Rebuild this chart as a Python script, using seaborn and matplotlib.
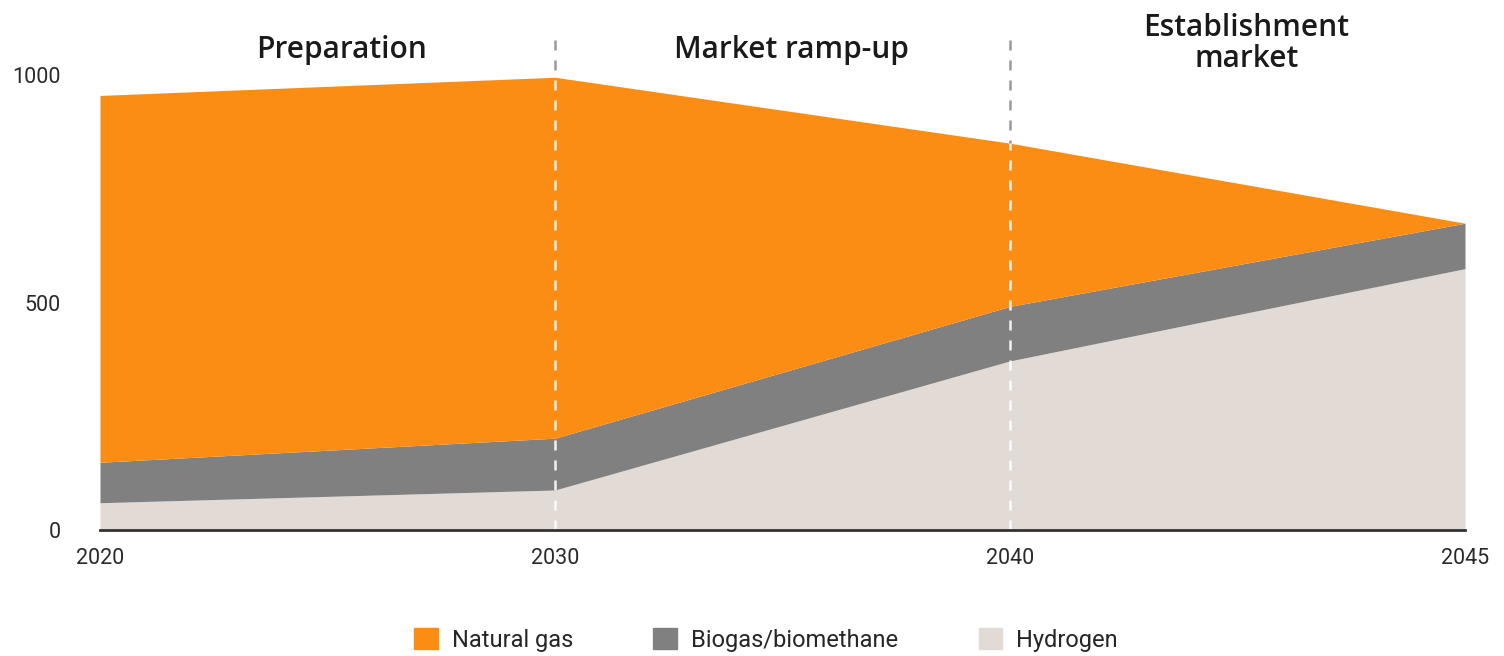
import matplotlib
matplotlib.use("Agg")
import matplotlib.pyplot as plt
import matplotlib.patches as mpatches
import seaborn as sns
import numpy as np

years = ["2020", "2030", "2040", "2045"]
hydrogen = [60, 88, 372, 575]
biogas = [89, 114, 120, 100]
natural_gas = [807, 794, 359, 0]
series_names = ["Natural gas", "Biogas/biomethane", "Hydrogen"]
phase_labels = ["Preparation", "Market ramp-up", "Establishment\nmarket"]
y_ticks = [0, 500, 1000]

colors = {"Natural gas": "#FB8C14", "Biogas/biomethane": "#808080", "Hydrogen": "#E2DAD5"}

sns.set_theme(style="white")
plt.rcParams["font.family"] = ["Roboto", "DejaVu Sans"]

fig = plt.figure(figsize=(15.04, 6.56), dpi=100)
ax = fig.add_axes([100 / 1504, 126 / 656, (1465 - 100) / 1504, (530 - 30) / 656])

x = np.arange(len(years))
ax.stackplot(x, hydrogen, biogas, natural_gas,
             colors=[colors["Hydrogen"], colors["Biogas/biomethane"], colors["Natural gas"]],
             linewidth=0, zorder=2)

totals = np.array(hydrogen) + np.array(biogas) + np.array(natural_gas)
for i in [1, 2]:
    ax.plot([x[i], x[i]], [0, 1100], color="#9A9A9A", ls=(0, (4, 4)), lw=1.8, zorder=1, clip_on=False)
    ax.plot([x[i], x[i]], [0, totals[i]], color="white", ls=(0, (4, 4)), lw=1.8, zorder=3, alpha=0.9)

ax.set_xlim(0, 3)
ax.set_ylim(0, 1100)
ax.set_xticks(x)
ax.set_xticklabels(years)
ax.set_yticks(y_ticks)
ax.set_yticklabels([str(t) for t in y_ticks])
ax.tick_params(axis="both", length=0, labelsize=15.5, labelcolor="#2a2a2a")
ax.tick_params(axis="x", pad=13)
ax.tick_params(axis="y", pad=28)

sns.despine(ax=ax, left=True, top=True, right=True)
ax.spines["bottom"].set_color("#333333")
ax.spines["bottom"].set_linewidth(2)
ax.spines["bottom"].set_zorder(4)

phase_x = [0.53, 1.52, 2.52]
phase_y = [1055, 1055, 1070]
for px, py, lab in zip(phase_x, phase_y, phase_labels):
    ax.text(px, py, lab, ha="center", va="center", fontsize=21.5, fontweight="semibold",
            color="#1a1a1a", family=["Open Sans", "DejaVu Sans"], linespacing=1.05, clip_on=False)

handles = [mpatches.Patch(color=colors[n], label=n) for n in series_names]
fig.legend(handles=handles, loc="center", bbox_to_anchor=(766 / 1504, 1 - 640 / 656), ncol=3,
           frameon=False, fontsize=17, handlelength=1.0, handleheight=1.0, handletextpad=0.6,
           columnspacing=3.4)

fig.savefig("out.png", dpi=100)
